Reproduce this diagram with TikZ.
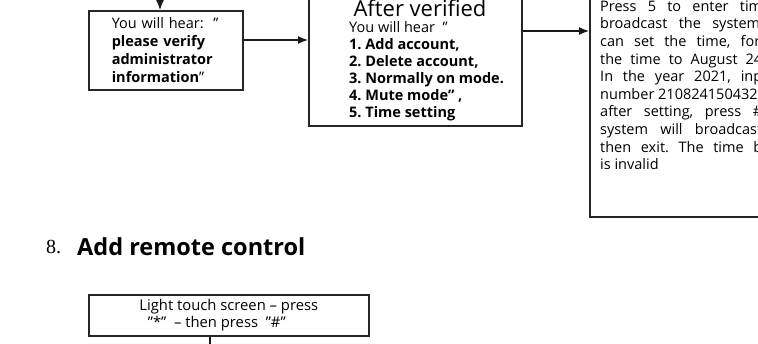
\documentclass[tikz,border=0pt]{standalone}
\usepackage{fontspec}
\setmainfont{Open Sans}
\newfontfamily\numfont{Liberation Serif}
\usetikzlibrary{arrows.meta}
\frenchspacing
\tikzset{
  frame/.style={draw=black!85, line width=1.6pt, inner sep=0pt},
  link/.style={->, line width=1.2pt, draw=black!90},
  body/.style={inner sep=0pt, align=left, anchor=north west},
}
\begin{document}
\begin{tikzpicture}[x=1pt, y=-1pt, >={Latex[length=10pt,width=8pt]}]
  \useasboundingbox (0,0) rectangle (758,343);
  % boîte de vérification, puis menu, puis réglage de l'heure
  \node[frame, minimum width=154pt, minimum height=79pt, anchor=north west,
        text width=108pt, align=left, inner xsep=23pt,
        font=\fontsize{14.5}{18}\selectfont] (verify) at (88,10)
    {You will hear:\ \ ”\\ \textbf{please verify}\\ \textbf{administrator}\\ \textbf{information}”};
  \node[frame, minimum width=213pt, minimum height=160pt, anchor=south west] (menu) at (308,127) {};
  \node[inner sep=0pt, font=\fontsize{22}{22}\selectfont] (menutitle) at (420,8) {After verified};
  \node[body, font=\fontsize{14.5}{17}\selectfont] (menutext) at (349,21.5)
    {You will hear\ \ ”\\ \textbf{1. Add account,}\\ \textbf{2. Delete account,}\\
     \textbf{3. Normally on mode.}\\ \textbf{4. Mute mode”\ ,}\\ \textbf{5. Time setting}};
  \node[frame, minimum width=250pt, minimum height=250pt, anchor=south west] (timeset) at (589,218) {};
  \node[body, font=\fontsize{14.5}{17.6}\selectfont] (timetext) at (600,0.5)
    {\makebox[162pt][s]{Press 5 to enter tim}\\
     \makebox[160pt][s]{broadcast the system}\\
     \makebox[160pt][s]{can set the time, for}\\
     \makebox[162pt][s]{the time to August 24}\\
     \makebox[162pt][s]{In the year 2021, inp}\\
     number 210824150432\\
     \makebox[162pt][s]{after setting, press \#}\\
     \makebox[162pt][s]{system will broadcast}\\
     \makebox[162pt][s]{then exit. The time b}\\
     is invalid};
  \coordinate (from) at (160,-20);
  \coordinate (lvl1) at (0,40);
  \coordinate (lvl2) at (0,31);
  \draw[link] (from) -- (from |- verify.north);
  \draw[link] (verify.east |- lvl1) -- (menu.west |- lvl1);
  \draw[link] (menu.east |- lvl2) -- (timeset.west |- lvl2);
  % section 8
  \node[inner sep=0pt, anchor=west, font=\numfont\fontsize{20}{20}\selectfont] (secnum) at (46,247) {8.};
  \node[inner sep=0pt, anchor=west, font=\bfseries\fontsize{23.5}{23.5}\selectfont] (sectitle) at (77,247) {Add remote control};
  \node[frame, minimum width=280pt, minimum height=41pt, anchor=north west, align=center,
        font=\fontsize{14.8}{16.5}\selectfont] (panel) at (88,294)
    {Light touch screen – press\\ "*"\ \ – then press\ \ "\#"\hspace*{24pt}};
  \coordinate (down) at (210,360);
  \draw[line width=1.2pt, black!90] (panel.south -| down) -- (down);
\end{tikzpicture}
\end{document}
